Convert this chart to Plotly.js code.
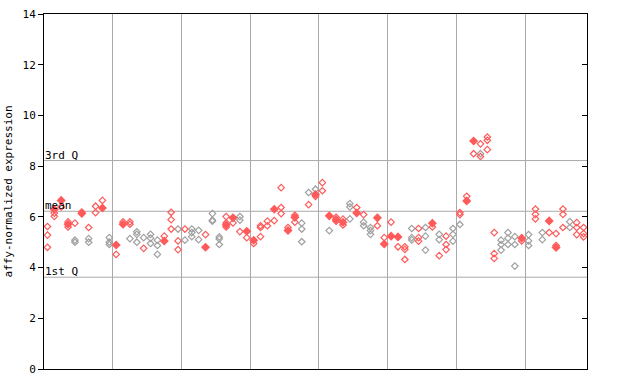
<!DOCTYPE html>
<html><head><meta charset="utf-8">
<script src="https://cdn.plot.ly/plotly-3.0.1.min.js"></script>
<style>body{margin:0;background:#fff}#c{width:640px;height:384px}</style>
</head><body><div id="c"></div>
<script>
// columns per category group (grid lines separate groups)
const groupSizes = [10, 10, 10, 10, 10, 10, 10, 9];
// summary lines
const q3Value = 8.22, meanValue = 6.22, q1Value = 3.62;
const statLabels = ["3rd Q", "mean", "1st Q"];
const yTicks = [0, 2, 4, 6, 8, 10, 12, 14];

// red open samples: column index / value
const redX = [0,0,0, 1,1, 2, 3,3, 4, 5, 6, 7,7, 8, 10, 11, 12,12, 14, 17, 18,18,18, 19,19, 20, 23,
  26,26,26, 27, 28, 29, 30, 31,31,31, 32,32, 33, 34,34,34, 35, 36,36, 38, 39, 40,40, 42,42, 43,43,
  45, 46, 48, 49, 50, 51, 52,52,52, 54,54,54, 56, 57, 58,58,58, 60,60, 61, 62, 63,63, 64,64,64,
  65,65,65, 69, 71,71,71, 73, 74,74, 75,75,75, 77,77,77, 78,78,78];
const redY = [5.62,5.28,4.80, 6.15,6.02, 6.39, 5.80,5.60, 5.75, 6.19, 5.58, 6.42,6.17, 6.65, 4.52, 5.80, 5.80,5.71, 4.76, 5.24, 6.18,5.89,5.52, 5.05,4.71, 5.52, 5.30,
  6.01,5.76,5.60, 5.76, 5.42, 5.18, 4.95, 5.65,5.58,5.22, 5.83,5.65, 5.85, 7.15,6.37,6.13, 5.58, 6.06,5.79, 6.48, 6.81, 7.35,7.03, 5.98,5.83, 5.91,5.68,
  6.37, 6.09, 5.65, 5.18, 5.79, 4.82, 4.82,4.72,4.32, 5.54,5.18,5.04, 5.60, 4.47, 5.24,4.91,4.71, 6.17,6.09, 6.81, 8.49, 8.88,8.38, 9.15,9.02,8.65,
  5.38,4.55,4.36, 5.05, 6.31,6.10,5.92, 5.38, 5.34,4.87, 6.31,6.10,5.58, 5.77,5.58,5.30, 5.58,5.34,5.21];

// grey open samples
const greyX = [4,4, 6,6, 9,9,9, 12, 13,13,13, 14, 15,15,15, 16,16,16, 19, 20, 21,21,21, 22,22, 24,24,24,
  25,25,25, 28,28, 37,37,37, 38, 39, 41, 44,44,44, 46,46, 47,47,47, 53,53,53, 55,55,55, 57,57, 59,59,59,
  60, 63, 66,66,66, 67,67,67, 68,68,68, 70,70,70, 72,72, 76,76];
const greyY = [5.08,5.00, 5.14,5.00, 5.18,5.00,4.91, 5.14, 5.41,5.31,5.00, 5.18, 5.31,5.16,4.95, 5.08,4.87,4.52, 5.52, 5.08, 5.52,5.38,5.22, 5.47,5.10, 6.13,5.87,5.83,
  5.21,5.13,4.91, 6.01,5.87, 5.75,5.52,5.02, 6.96, 7.09, 5.46, 6.52,6.39,5.92, 5.79,5.65, 5.58,5.46,5.31, 5.54,5.18,5.09, 5.58,5.24,4.69, 5.31,5.10, 5.54,5.31,5.04,
  5.70, 8.49, 5.08,4.91,4.69, 5.38,5.16,4.91, 5.22,4.91,4.06, 5.30,5.05,4.87, 5.38,5.10, 5.81,5.58];

// filled (highlighted) samples
const fillX = [1, 2, 3, 5, 8, 10, 11, 17, 23, 26, 27, 29, 30, 33, 35, 36, 39, 41, 42, 43, 45, 48, 49, 50, 51, 56, 61, 62, 69, 73, 74];
const fillY = [6.29, 6.65, 5.71, 6.13, 6.35, 4.89, 5.71, 5.05, 4.80, 5.68, 5.96, 5.43, 5.08, 6.30, 5.46, 5.98, 6.88, 6.04, 5.89, 5.79, 6.15, 5.96, 4.93, 5.24, 5.21, 5.75, 6.63, 8.99, 5.16, 5.84, 4.79];

const nCols = groupSizes.reduce((a, b) => a + b, 0);
const bounds = [];
let acc = 0;
for (let i = 0; i < groupSizes.length - 1; i++) { acc += groupSizes[i]; bounds.push(acc - 0.5); }

const RED = '#ff5a5a', GREY = '#a0a0a0';
const mono = 'DejaVu Sans Mono, monospace';

const traces = [
  {x: greyX, y: greyY, type: 'scatter', mode: 'markers', hoverinfo: 'skip',
   marker: {symbol: 'diamond-open', size: 5, color: GREY, line: {width: 1.2, color: GREY}}},
  {x: redX, y: redY, type: 'scatter', mode: 'markers', hoverinfo: 'skip',
   marker: {symbol: 'diamond-open', size: 5, color: RED, line: {width: 1.2, color: RED}}},
  {x: fillX, y: fillY, type: 'scatter', mode: 'markers', hoverinfo: 'skip',
   marker: {symbol: 'diamond', size: 7, color: RED, line: {width: 0}}},
  {x: fillX, y: fillY, yaxis: 'y2', type: 'scatter', mode: 'markers', hoverinfo: 'skip',
   marker: {opacity: 0}}
];

const stats = [q3Value, meanValue, q1Value];
const shapes = stats.map(v => ({type: 'line', xref: 'paper', x0: 0, x1: 1, yref: 'y', y0: v, y1: v,
  line: {color: '#aaaaaa', width: 1}, layer: 'below'}));
const annotations = stats.map((v, i) => ({xref: 'paper', x: 0, xanchor: 'left', yref: 'y', y: v, yanchor: 'bottom',
  text: statLabels[i], showarrow: false, font: {family: mono, size: 11, color: '#000'}, xshift: -1, yshift: -3}));

const layout = {
  width: 640, height: 384,
  margin: {l: 44, r: 53, t: 14, b: 15},
  paper_bgcolor: '#fff', plot_bgcolor: '#fff',
  showlegend: false,
  xaxis: {range: [-0.5, nCols - 0.5], tickvals: bounds, showticklabels: false, ticks: '',
    showgrid: true, gridcolor: '#aaaaaa', gridwidth: 1, zeroline: false,
    showline: true, linecolor: '#000', linewidth: 1, mirror: true},
  yaxis: {range: [0, 14], tickvals: yTicks, ticks: 'outside', ticklen: 5, tickcolor: '#000',
    showgrid: false, zeroline: false, showline: true, linecolor: '#000', linewidth: 1, mirror: true,
    tickfont: {family: mono, size: 11, color: '#000'},
    title: {text: 'affy-normalized expression', font: {family: mono, size: 11, color: '#000'}, standoff: 7}},
  yaxis2: {range: [0, 14], tickvals: yTicks, overlaying: 'y', side: 'right', ticks: 'inside', ticklen: 5,
    tickcolor: '#000', showticklabels: false, showgrid: false, zeroline: false, showline: false},
  shapes: shapes,
  annotations: annotations
};

Plotly.newPlot('c', traces, layout, {staticPlot: true});
</script></body></html>
